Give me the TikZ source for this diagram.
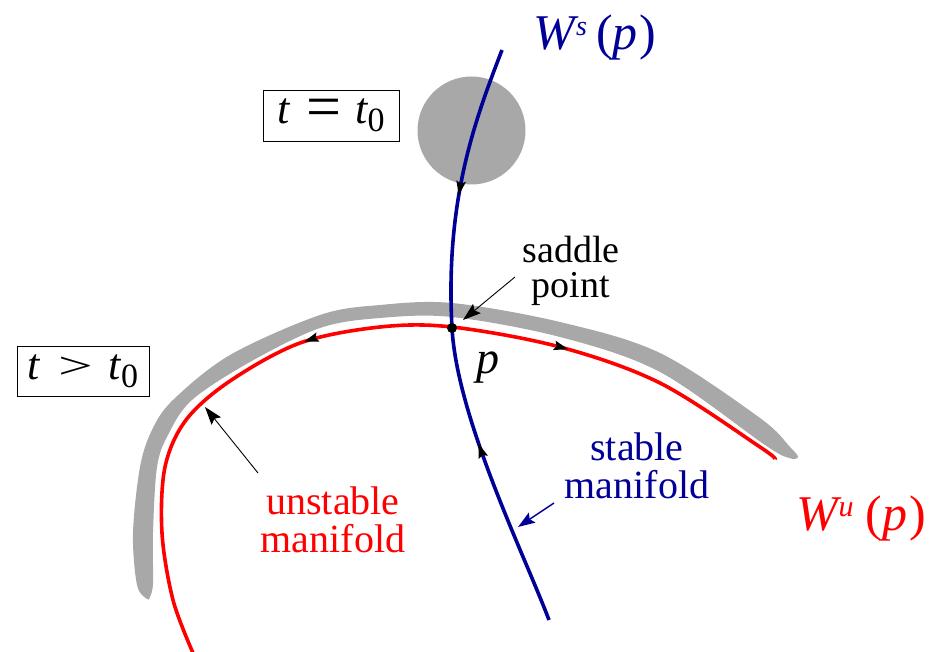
\documentclass[tikz,border=0pt]{standalone}
\usepackage{fontspec}
\setmainfont{Liberation Serif}
\usetikzlibrary{arrows.meta,decorations.markings}
\definecolor{mblue}{RGB}{0,0,150}
\definecolor{mred}{RGB}{255,0,0}
\definecolor{mgray}{RGB}{168,168,168}
\tikzset{
  lbl/.style={font=\fontsize{40}{38}\selectfont, align=center, inner sep=0pt},
  mathlbl/.style={font=\fontsize{50}{50}\selectfont, inner sep=0pt},
  timebox/.style={draw=black, line width=0.9pt, inner sep=0pt, font=\fontsize{44}{44}\selectfont},
  pointer/.style={draw=black, line width=0.9pt, -{Stealth[length=18pt,width=12pt,inset=3pt]}},
  bluepointer/.style={draw=mblue, line width=1.4pt, -{Stealth[length=17pt,width=12pt,inset=3pt]}},
  manifold/.style={line width=3.6pt},
  ctip/.tip={Stealth[length=14pt,width=9pt,inset=2pt,color=black]}
}
\begin{document}
\begin{tikzpicture}[x=1pt,y=-1pt]
\useasboundingbox (0,0) rectangle (930,652);

% gray blob at t = t0
\fill[mgray] (471.5,130.5) circle (54);

% gray band at t > t0
\fill[mgray] plot[smooth cycle, tension=0.55] coordinates {
 (147,599) (137,585) (133,533) (140,467) (152,430) (173,400) (230,355)
 (320,315) (380,305) (452,303) (560,322) (660,353) (760,418) (790,447) (798,457)
 (789,458) (765,445) (660,372) (560,337) (452,317) (380,318) (320,328)
 (250,362) (192,400) (168,435) (157,467) (153,533) (153,583) (150,597)};

% unstable manifold (red)
\draw[mred, manifold, postaction={decorate}, decoration={markings,
   mark=at position 386pt with {\arrowreversed{ctip}},
   mark=at position 654pt with {\arrow{ctip}}}]
  plot[smooth, tension=0.55] coordinates {
  (193,653) (173,600) (162,533) (165,467) (186,420) (230,381) (300,343)
  (380,327) (452,327) (560,347) (660,383) (760,447) (775,459)};

% stable manifold (blue)
\draw[mblue, manifold, postaction={decorate}, decoration={markings,
   mark=at position 152pt with {\arrow{ctip}},
   mark=at position 404pt with {\arrowreversed{ctip}}}]
  (502,50) .. controls (475,120) and (445,200) .. (452,328)
           .. controls (457,418) and (524,554) .. (549,620);

% saddle point
\node[circle, fill=black, inner sep=0pt, minimum size=10pt] (p) at (452,328) {};

% labels
\node[timebox, minimum width=136pt, minimum height=51pt] (box0) at (331,115.5)
  {\itshape t\hspace{17pt}\upshape\raisebox{-4pt}{\fontsize{62}{62}\selectfont =}\hspace{14pt}\itshape t\upshape\raisebox{-8pt}{\fontsize{34}{34}\selectfont 0}};
\node[timebox, minimum width=132pt, minimum height=50pt] (box1) at (83,371)
  {\itshape t\hspace{18pt}\upshape\raisebox{1pt}{\scalebox{1.4}[0.85]{>}}\hspace{16pt}\itshape t\upshape\raisebox{-8pt}{\fontsize{34}{34}\selectfont 0}};

\node[mathlbl, text=mblue] (Ws) at (595,37)
  {\itshape W\kern1pt\raisebox{14pt}{\fontsize{28}{28}\selectfont s}\kern9pt\upshape(\itshape p\kern2pt\upshape)};
\node[mathlbl, text=mred] (Wu) at (861,518)
  {\itshape W\kern1pt\raisebox{14pt}{\fontsize{30}{30}\selectfont u}\kern12pt\upshape(\itshape p\kern2pt\upshape)};

\node[font=\fontsize{46}{46}\selectfont\itshape, inner sep=0pt] (plbl) at (488,368) {p};

\node[lbl, font=\fontsize{38}{35}\selectfont] (sp) at (571,271) {saddle\\point};
\node[lbl, text=mblue] (sm) at (637,466) {stable\\manifold};
\node[lbl, text=mred] (um) at (333,520) {unstable\\manifold};

% pointers
\coordinate (spA) at (515,277);
\coordinate (spB) at (463,320);
\coordinate (umA) at (258,473);
\coordinate (umB) at (205,407);
\coordinate (smA) at (554,503);
\coordinate (smB) at (518,527);
\draw[pointer] (spA) -- (spB);
\draw[pointer] (umA) -- (umB);
\draw[bluepointer] (smA) -- (smB);
\end{tikzpicture}
\end{document}
